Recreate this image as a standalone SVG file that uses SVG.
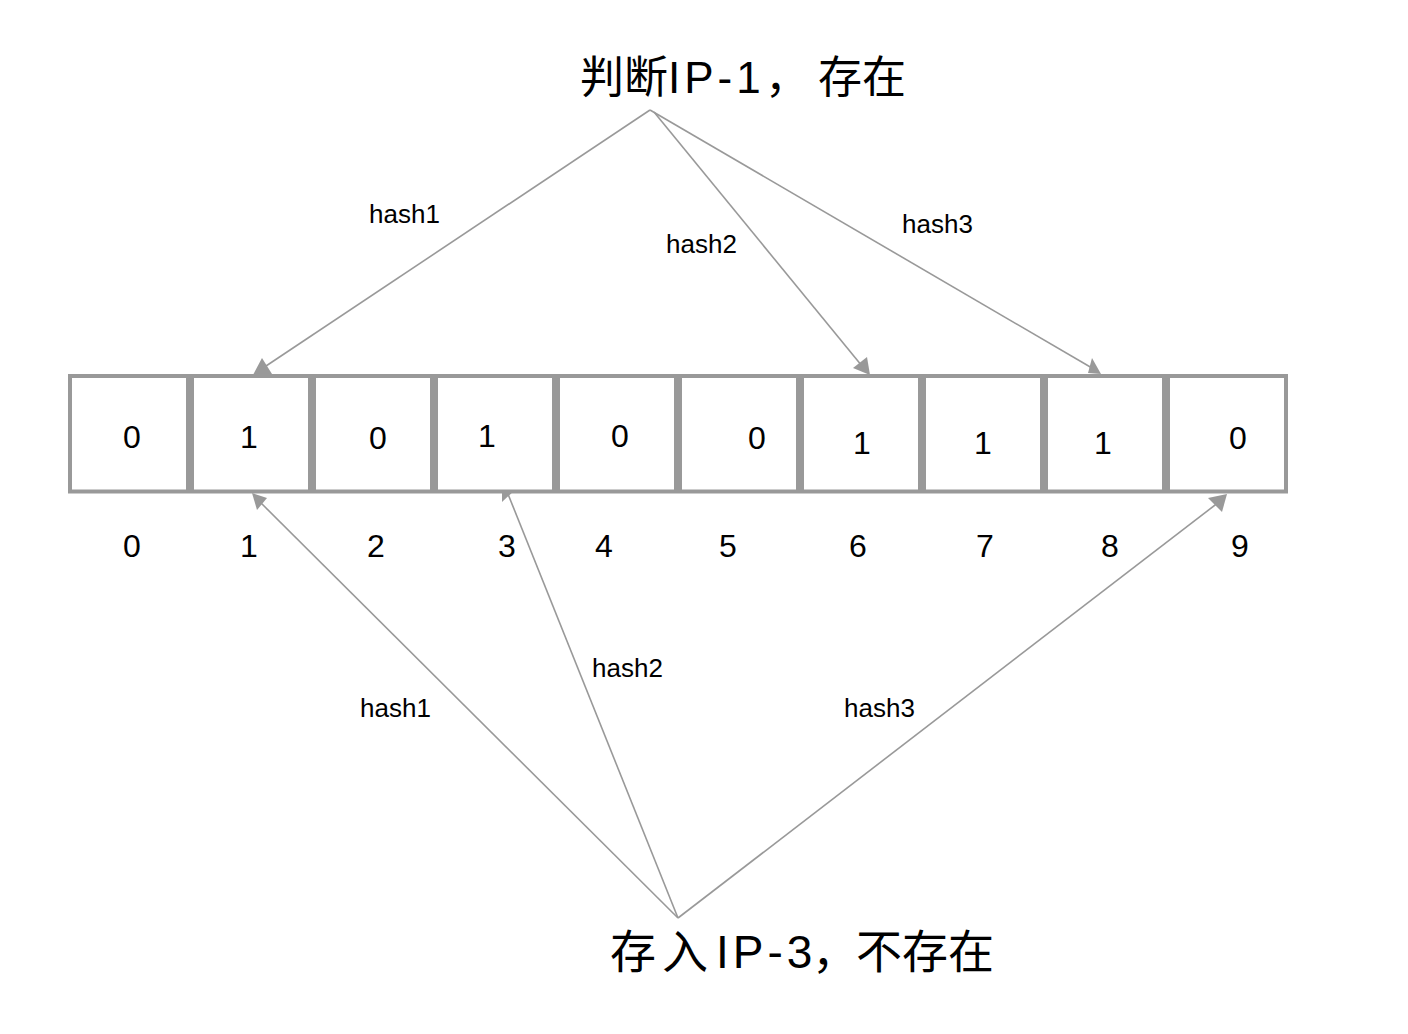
<svg xmlns="http://www.w3.org/2000/svg" width="1408" height="1034" viewBox="0 0 1408 1034">
<style>
.cell{fill:#fff;stroke:#999;stroke-width:4}
.val{font-family:"Liberation Sans",Arial,sans-serif;font-size:32px;fill:#000;text-anchor:middle}
.lbl{font-family:"Liberation Sans",Arial,sans-serif;font-size:26px;fill:#000}
.title{font-family:"Liberation Sans","Noto Sans CJK SC",sans-serif;font-size:44px;fill:#000}
.lat{letter-spacing:4px}
.ln{stroke:#999;stroke-width:1.6;fill:none}
.ah{fill:#999;stroke:none}
</style>
<rect width="1408" height="1034" fill="#fff"/>
<g id="connectors">
<line class="ln" x1="650" y1="110" x2="263" y2="368"/>
<line class="ln" x1="654" y1="112" x2="862" y2="366"/>
<line class="ln" x1="650" y1="110" x2="1092" y2="368"/>
<line class="ln" x1="678" y1="918" x2="260" y2="502"/>
<line class="ln" x1="678" y1="918" x2="508" y2="494"/>
<line class="ln" x1="678" y1="918" x2="1219" y2="502"/>
<polygon class="ah" points="253,375 262,358 272,374"/>
<polygon class="ah" points="853,368 867,357 870,375"/>
<polygon class="ah" points="1088,373 1092,358 1101,374"/>
<polygon class="ah" points="252,493 267,498 257,510"/>
<polygon class="ah" points="502,482 515,490 502,502"/>
<polygon class="ah" points="1208,498 1227,494 1222,512"/>
<text class="lbl" x="369" y="223">hash1</text>
<text class="lbl" x="666" y="253">hash2</text>
<text class="lbl" x="902" y="233">hash3</text>
<text class="lbl" x="360" y="717">hash1</text>
<text class="lbl" x="592" y="677">hash2</text>
<text class="lbl" x="844" y="717">hash3</text>
</g>
<g id="title-top"><text class="title" y="93"><tspan x="580">判断</tspan><tspan class="lat" x="668">IP-1</tspan><tspan x="765">，</tspan><tspan x="818">存在</tspan></text></g>
<g id="title-bottom"><text class="title" y="968" style="font-size:46px"><tspan x="610" style="letter-spacing:6px">存入</tspan><tspan class="lat" x="716">IP-3</tspan><tspan x="812">，</tspan><tspan x="856">不存在</tspan></text></g>
<g id="cell0"><rect class="cell" x="70" y="376" width="118" height="115.5"/><text class="val" x="132" y="448">0</text></g>
<g id="cell1"><rect class="cell" x="192" y="376" width="118" height="115.5"/><text class="val" x="249" y="448">1</text></g>
<g id="cell2"><rect class="cell" x="314" y="376" width="118" height="115.5"/><text class="val" x="378" y="449">0</text></g>
<g id="cell3"><rect class="cell" x="436" y="376" width="118" height="115.5"/><text class="val" x="487" y="447">1</text></g>
<g id="cell4"><rect class="cell" x="558" y="376" width="118" height="115.5"/><text class="val" x="620" y="447">0</text></g>
<g id="cell5"><rect class="cell" x="680" y="376" width="118" height="115.5"/><text class="val" x="757" y="449">0</text></g>
<g id="cell6"><rect class="cell" x="802" y="376" width="118" height="115.5"/><text class="val" x="862" y="454">1</text></g>
<g id="cell7"><rect class="cell" x="924" y="376" width="118" height="115.5"/><text class="val" x="983" y="454">1</text></g>
<g id="cell8"><rect class="cell" x="1046" y="376" width="118" height="115.5"/><text class="val" x="1103" y="454">1</text></g>
<g id="cell9"><rect class="cell" x="1168" y="376" width="118" height="115.5"/><text class="val" x="1238" y="449">0</text></g>
<g id="indices">
<text class="val" x="132" y="557">0</text>
<text class="val" x="249" y="557">1</text>
<text class="val" x="376" y="557">2</text>
<text class="val" x="507" y="557">3</text>
<text class="val" x="604" y="557">4</text>
<text class="val" x="728" y="557">5</text>
<text class="val" x="858" y="557">6</text>
<text class="val" x="985" y="557">7</text>
<text class="val" x="1110" y="557">8</text>
<text class="val" x="1240" y="557">9</text>
</g>
</svg>
